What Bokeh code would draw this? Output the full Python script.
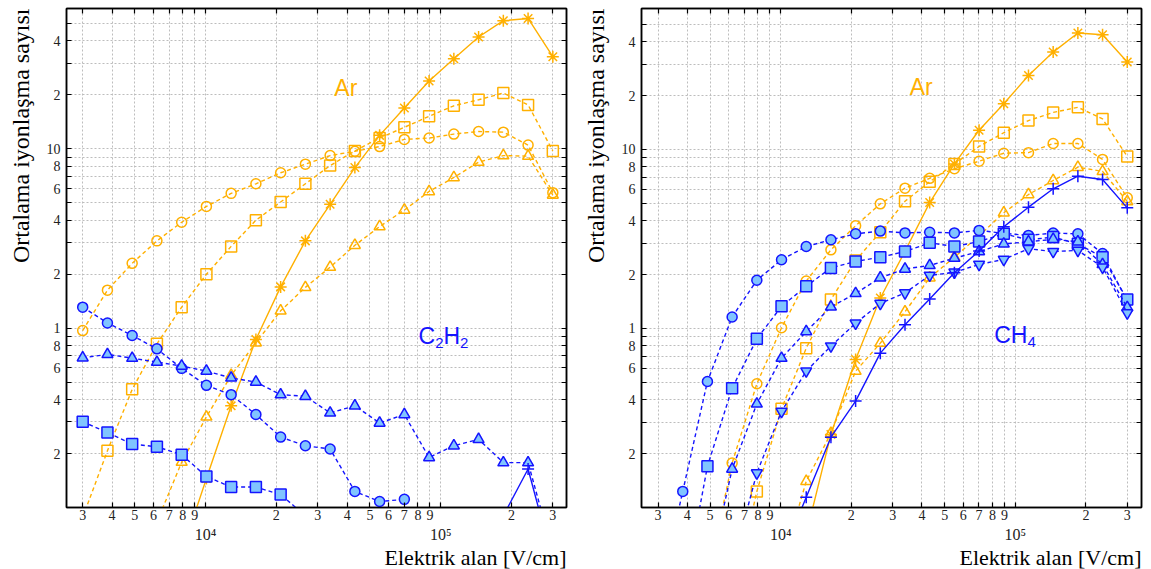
import numpy as np
from bokeh.plotting import figure
from bokeh.models import Range1d, FixedTicker, LogAxis, Label, Title
from bokeh.layouts import row
from bokeh.embed import file_html
from bokeh.resources import INLINE

nan = float("nan")

# Electric field values (V/cm), shared by every curve
field = [3000, 3823, 4871, 6207, 7910, 10079, 12844, 16367, 20856, 26576,
         33865, 43152, 54989, 70071, 89291, 113782, 144986, 184756, 235428, 300000]

# ---- C2H2 panel: mean ionisation number ----
c2h2_ar_star = [nan, nan, nan, nan, 0.056, 0.145, 0.369, 0.865, 1.70, 3.07,
                4.91, 7.87, 11.9, 16.9, 23.9, 31.8, 42.1, 51.9, 53.4, 32.7]
c2h2_ar_circle = [0.97, 1.63, 2.30, 3.07, 3.90, 4.78, 5.65, 6.39, 7.36, 8.22,
                  9.18, 9.7, 10.3, 11.3, 11.5, 12.1, 12.5, 12.4, 10.5, 5.70]
c2h2_ar_square = [0.088, 0.207, 0.456, 0.818, 1.31, 2.00, 2.86, 4.00, 5.06, 6.39,
                  8.07, 9.75, 11.5, 13.2, 15.2, 17.4, 18.8, 20.5, 17.6, 9.75]
c2h2_ar_tri = [nan, nan, nan, 0.083, 0.179, 0.32, 0.546, 0.83, 1.25, 1.69,
               2.19, 2.90, 3.69, 4.56, 5.79, 6.93, 8.44, 9.18, 9.11, 5.53]
c2h2_circle = [1.31, 1.07, 0.911, 0.767, 0.597, 0.480, 0.426, 0.330, 0.247, 0.221,
               0.212, 0.123, 0.108, 0.111, nan, nan, nan, nan, nan, nan]
c2h2_tri = [0.684, 0.714, 0.681, 0.647, 0.615, 0.577, 0.528, 0.501, 0.426, 0.417,
            0.337, 0.369, 0.296, 0.330, 0.190, 0.221, 0.240, 0.178, 0.178, 0.056]
c2h2_square = [0.301, 0.262, 0.226, 0.218, 0.197, 0.149, 0.130, 0.130, 0.118, 0.09,
               nan, nan, nan, nan, nan, nan, nan, nan, nan, nan]
c2h2_plus = [nan, nan, nan, nan, nan, nan, nan, nan, nan, nan,
             nan, nan, nan, nan, nan, nan, nan, 0.09, 0.164, 0.05]

# ---- CH4 panel ----
ch4_ar_star = [nan, nan, nan, nan, nan, nan, 0.071, 0.256, 0.671, 1.48,
               2.7, 5.05, 8.3, 12.8, 18.0, 25.9, 35.0, 44.7, 43.7, 30.8]
ch4_ar_circle = [nan, nan, 0.04, 0.177, 0.491, 1.01, 1.84, 2.75, 3.75, 4.97,
                 6.08, 6.9, 7.8, 8.6, 9.53, 9.6, 10.8, 10.8, 8.8, 5.37]
ch4_ar_square = [nan, nan, nan, 0.03, 0.123, 0.356, 0.776, 1.45, 2.4, 3.45,
                 5.14, 6.6, 8.3, 10.4, 12.4, 14.5, 16.1, 17.2, 14.8, 9.14]
ch4_ar_tri = [nan, nan, nan, nan, nan, 0.047, 0.140, 0.26, 0.578, 0.828,
              1.24, 1.92, 2.5, 3.3, 4.43, 5.6, 6.71, 7.96, 7.54, 5.12]
ch4_circle = [0.03, 0.123, 0.506, 1.16, 1.86, 2.42, 2.87, 3.13, 3.38, 3.50,
              3.42, 3.45, 3.42, 3.53, 3.40, 3.31, 3.41, 3.38, 2.62, 1.42]
ch4_square = [nan, 0.031, 0.170, 0.464, 0.875, 1.33, 1.72, 2.18, 2.37, 2.50,
              2.69, 3.01, 2.87, 3.06, 3.38, 3.13, 3.24, 2.97, 2.50, 1.45]
ch4_tri = [nan, nan, 0.039, 0.164, 0.379, 0.683, 0.962, 1.32, 1.57, 1.92,
           2.15, 2.25, 2.47, 2.69, 2.97, 3.05, 3.15, 3.05, 2.28, 1.31]
ch4_inv = [nan, nan, nan, 0.047, 0.156, 0.344, 0.578, 0.797, 1.07, 1.38,
           1.58, 1.98, 2.06, 2.28, 2.43, 2.79, 2.69, 2.73, 2.20, 1.22]
ch4_plus = [nan, nan, nan, nan, nan, 0.053, 0.114, 0.247, 0.393, 0.728,
            1.05, 1.46, 2.05, 2.71, 3.7, 4.76, 6.03, 7.09, 6.80, 4.72]

# Axis ticks and their printed labels
x_ticks = [3000, 4000, 5000, 6000, 7000, 8000, 9000, 10000,
           20000, 30000, 40000, 50000, 60000, 70000, 80000, 90000, 100000,
           200000, 300000]
x_tick_labels = ["3", "4", "5", "6", "7", "8", "9", "",
                 "2", "3", "4", "5", "6", "7", "8", "9", "",
                 "2", "3"]
decade_ticks = [10000, 100000]
decade_labels = ["10⁴", "10⁵"]
y_ticks = [0.2, 0.3, 0.4, 0.5, 0.6, 0.7, 0.8, 0.9,
           1, 2, 3, 4, 5, 6, 7, 8, 9,
           10, 20, 30, 40, 50]
y_tick_labels = ["2", "", "4", "", "6", "", "8", "",
                 "1", "2", "", "4", "", "6", "", "8", "",
                 "10", "2", "", "4", ""]

ORANGE = "#ffb000"
BLUE = "#1414ff"
LIGHT_BLUE = "#80c4ff"
SERIF = "Liberation Serif"
SANS = "Liberation Sans"
H = 569


def style_axis(ax, size="14px"):
    ax.major_tick_in = 5
    ax.major_tick_out = 0
    ax.minor_tick_in = 0
    ax.minor_tick_out = 0
    ax.axis_line_width = 1.5
    ax.major_tick_line_width = 1.2
    ax.major_label_text_font = SERIF
    ax.major_label_text_font_size = size
    ax.major_label_text_color = "#222222"


def make_panel(width, b_left, b_right, b_top, xr, yr, orange, blue):
    p = figure(width=width, height=H, x_axis_type="log", y_axis_type="log",
               x_range=Range1d(*xr), y_range=Range1d(*yr),
               output_backend="svg", toolbar_location=None,
               min_border_left=b_left, min_border_right=b_right,
               min_border_top=b_top, min_border_bottom=62)
    p.background_fill_color = "white"
    p.border_fill_color = "white"
    p.outline_line_color = "black"
    p.outline_line_width = 1.5

    xt = FixedTicker(ticks=x_ticks, minor_ticks=[])
    yt = FixedTicker(ticks=y_ticks, minor_ticks=[])
    p.xaxis.ticker = xt
    p.yaxis.ticker = yt
    p.xgrid.ticker = xt
    p.ygrid.ticker = yt
    p.xaxis.major_label_overrides = dict(zip(x_ticks, x_tick_labels))
    p.yaxis.major_label_overrides = dict(zip(y_ticks, y_tick_labels))
    style_axis(p.xaxis[0])
    style_axis(p.yaxis[0])
    p.xaxis.major_label_standoff = 2
    p.yaxis.major_label_standoff = 6

    # second row of x labels: the decades, set a little lower
    dec = LogAxis(ticker=FixedTicker(ticks=decade_ticks, minor_ticks=[]),
                  major_label_overrides=dict(zip(decade_ticks, decade_labels)),
                  major_label_standoff=-3, axis_line_color=None,
                  major_tick_line_color=None, minor_tick_line_color=None,
                  major_label_text_font=SERIF, major_label_text_font_size="16px",
                  major_label_text_color="#222222")
    p.add_layout(dec, "below")

    # tick marks along the top and right edges
    for loc, tk in (("above", xt), ("right", yt)):
        ax = LogAxis(ticker=tk)
        style_axis(ax, "0px")
        ax.major_label_standoff = 0
        ax.major_label_overrides = dict(zip(tk.ticks, [""] * len(tk.ticks)))
        p.add_layout(ax, loc)

    for g in (p.xgrid[0], p.ygrid[0]):
        g.grid_line_color = "#bdbdbd"
        g.grid_line_dash = "2 2"
        g.grid_line_width = 1

    x = np.array(field, dtype=float)
    for vals, marker, dash, size in orange:
        y = np.array(vals, dtype=float)
        p.line(x, y, line_color=ORANGE, line_width=1.4, line_dash=dash)
        p.scatter(x, y, marker=marker, size=size, fill_color=None,
                  line_color=ORANGE, line_width=1.5)
    for vals, marker, dash, size in blue:
        y = np.array(vals, dtype=float)
        p.line(x, y, line_color=BLUE, line_width=1.4, line_dash=dash)
        filled = marker not in ("cross", "asterisk")
        p.scatter(x, y, marker=marker, size=size,
                  fill_color=LIGHT_BLUE if filled else None,
                  line_color=BLUE, line_width=1.5)

    # axis titles, both flush with the far end of their axis
    p.add_layout(Title(text="Elektrik alan [V/cm]", align="right",
                       text_font=SERIF, text_font_size="22px",
                       text_font_style="normal", text_color="black",
                       standoff=-5), "below")
    p.add_layout(Title(text="Ortalama iyonlaşma sayısı", align="right",
                       vertical_align="top",
                       text_font=SERIF, text_font_size="24px",
                       text_font_style="normal", text_color="black",
                       standoff=15), "left")
    return p


def gas_label(p, x, y, parts):
    off = 0.0
    for txt, sub in parts:
        size = 15 if sub else 23
        p.add_layout(Label(x=x, y=y, text=txt, x_offset=off, y_offset=-7 if sub else 0,
                           text_align="left", text_baseline="alphabetic",
                           text_font=SANS, text_font_size=f"{size}px", text_color=BLUE))
        off += (0.556 if txt.isdigit() else 0.722) * size


left = make_panel(575, 66, 9, 6, (2560, 343000), (0.1, 60.7),
                  orange=[(c2h2_ar_circle, "circle", "4 3", 10),
                          (c2h2_ar_square, "square", "4 3", 11),
                          (c2h2_ar_tri, "triangle", "4 3", 11),
                          (c2h2_ar_star, "asterisk", "solid", 12)],
                  blue=[(c2h2_circle, "circle", "4 3", 10),
                        (c2h2_square, "square", "4 3", 11),
                        (c2h2_tri, "triangle", "4 3", 11),
                        (c2h2_plus, "cross", "solid", 12)])
left.add_layout(Label(x=39500, y=22, text="Ar", text_align="center",
                      text_baseline="middle", text_font=SANS,
                      text_font_size="23px", text_color=ORANGE))
gas_label(left, 80500, 0.90, [("C", False), ("2", True), ("H", False), ("2", True)])

right = make_panel(576, 64, 10, 8, (2550, 345000), (0.1, 61.3),
                   orange=[(ch4_ar_circle, "circle", "4 3", 10),
                           (ch4_ar_square, "square", "4 3", 11),
                           (ch4_ar_tri, "triangle", "4 3", 11),
                           (ch4_ar_star, "asterisk", "solid", 12)],
                   blue=[(ch4_circle, "circle", "4 3", 10),
                         (ch4_square, "square", "4 3", 11),
                         (ch4_tri, "triangle", "4 3", 11),
                         (ch4_inv, "inverted_triangle", "4 3", 11),
                         (ch4_plus, "cross", "solid", 12)])
right.add_layout(Label(x=39700, y=22.3, text="Ar", text_align="center",
                       text_baseline="middle", text_font=SANS,
                       text_font_size="23px", text_color=ORANGE))
gas_label(right, 81300, 0.914, [("C", False), ("H", False), ("4", True)])

layout = row(left, right)
open("out.html", "w").write(file_html(layout, INLINE))
